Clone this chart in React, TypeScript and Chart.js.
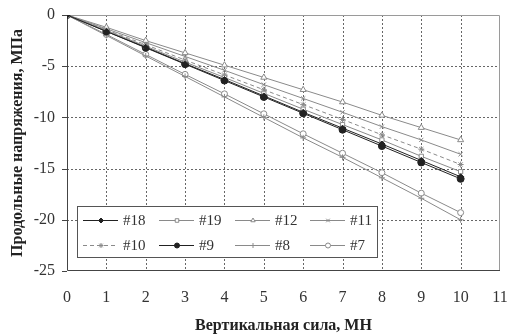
import React, { useEffect, useRef } from "react";
import { Chart, registerables } from "chart.js";
import { drawPoint } from "chart.js/helpers";

Chart.register(...registerables);

const forceValues = [0, 1, 2, 3, 4, 5, 6, 7, 8, 9, 10];
const xTicks = [0, 1, 2, 3, 4, 5, 6, 7, 8, 9, 10, 11];
const yTicks = [-25, -20, -15, -10, -5, 0];

const s18 = [0, -1.6, -3.15, -4.75, -6.3, -7.9, -9.5, -11.05, -12.6, -14.2, -15.8];
const s19 = [0, -1.5, -3.05, -4.6, -6.1, -7.65, -9.2, -10.7, -12.2, -13.8, -15.3];
const s12 = [0, -1.2, -2.5, -3.7, -4.9, -6.1, -7.3, -8.5, -9.8, -11.0, -12.2];
const s11 = [0, -1.35, -2.7, -4.05, -5.4, -6.8, -8.15, -9.5, -10.9, -12.2, -13.6];
const s10 = [0, -1.45, -2.9, -4.4, -5.85, -7.3, -8.75, -10.2, -11.7, -13.1, -14.6];
const s9 = [0, -1.6, -3.2, -4.8, -6.4, -8.0, -9.6, -11.2, -12.8, -14.4, -16.0];
const s8 = [0, -2.0, -4.0, -6.0, -8.0, -10.0, -12.0, -13.9, -15.9, -17.9, -20.0];
const s7 = [0, -1.9, -3.85, -5.8, -7.7, -9.65, -11.6, -13.5, -15.4, -17.4, -19.3];

const seriesNames = ["#18", "#19", "#12", "#11", "#10", "#9", "#8", "#7"];
const seriesValues = [s18, s19, s12, s11, s10, s9, s8, s7];

const GRAY = "#8a8a8a";
const DARK = "#222222";

const styles: any[] = [
  { color: DARK, pointStyle: "rectRot", radius: 3, fill: DARK, dash: [] },
  { color: GRAY, pointStyle: "rect", radius: 3, fill: "#ffffff", dash: [] },
  { color: GRAY, pointStyle: "triangle", radius: 3.5, fill: "#ffffff", dash: [] },
  { color: GRAY, pointStyle: "crossRot", radius: 3, fill: "#ffffff", dash: [] },
  { color: GRAY, pointStyle: "star", radius: 3, fill: "#ffffff", dash: [4, 3] },
  { color: DARK, pointStyle: "circle", radius: 3.5, fill: DARK, dash: [] },
  { color: GRAY, pointStyle: "cross", radius: 3, fill: "#ffffff", dash: [] },
  { color: GRAY, pointStyle: "circle", radius: 3, fill: "#ffffff", dash: [] },
];

const FONT = "'Liberation Serif', 'DejaVu Serif', serif";

// dotted grid, plot frame and y tick marks, placed through the chart's scales
const framePlugin = {
  id: "frame",
  beforeDatasetsDraw(chart: any) {
    const { ctx, chartArea: a, scales } = chart;
    const xs = scales.x;
    const ys = scales.y;
    ctx.save();
    ctx.lineWidth = 1;
    ctx.strokeStyle = "#666666";
    ctx.setLineDash([2, 2]);
    xs.ticks.forEach((t: any) => {
      const px = Math.round(xs.getPixelForValue(t.value)) + 0.5;
      if (px <= a.left + 1 || px >= a.right - 1) return;
      ctx.beginPath();
      ctx.moveTo(px, a.top);
      ctx.lineTo(px, a.bottom);
      ctx.stroke();
    });
    ys.ticks.forEach((t: any) => {
      const py = Math.round(ys.getPixelForValue(t.value)) + 0.5;
      if (py <= a.top + 1 || py >= a.bottom - 1) return;
      ctx.beginPath();
      ctx.moveTo(a.left, py);
      ctx.lineTo(a.right, py);
      ctx.stroke();
    });
    ctx.setLineDash([]);
    ctx.strokeStyle = "#9a9a9a";
    ctx.beginPath();
    ctx.moveTo(a.left, a.top + 0.5);
    ctx.lineTo(a.right - 0.5, a.top + 0.5);
    ctx.lineTo(a.right - 0.5, a.bottom);
    ctx.stroke();
    ctx.strokeStyle = "#444";
    ctx.beginPath();
    ctx.moveTo(a.left + 0.5, a.top);
    ctx.lineTo(a.left + 0.5, a.bottom - 0.5);
    ctx.lineTo(a.right, a.bottom - 0.5);
    ctx.stroke();
    ys.ticks.forEach((t: any) => {
      const py = Math.round(ys.getPixelForValue(t.value)) + 0.5;
      ctx.beginPath();
      ctx.moveTo(a.left - 5, py);
      ctx.lineTo(a.left, py);
      ctx.stroke();
    });
    ctx.restore();
  },
};

const legendPlugin = {
  id: "insideLegend",
  afterDraw(chart: any) {
    const { ctx } = chart;
    const bx = 77, by = 206, bw = 300, bh = 51;
    ctx.save();
    ctx.fillStyle = "#ffffff";
    ctx.fillRect(bx, by, bw, bh);
    ctx.strokeStyle = "#555";
    ctx.lineWidth = 1;
    ctx.strokeRect(bx + 0.5, by + 0.5, bw, bh);
    const colX = [83, 159, 235, 310];
    const rowY = [220, 245];
    chart.data.datasets.forEach((ds: any, i: number) => {
      const st = styles[i];
      const x0 = colX[i % 4];
      const y0 = rowY[Math.floor(i / 4)];
      ctx.strokeStyle = st.color;
      ctx.lineWidth = 1;
      ctx.setLineDash(st.dash);
      ctx.beginPath();
      ctx.moveTo(x0, y0 + 0.5);
      ctx.lineTo(x0 + 35, y0 + 0.5);
      ctx.stroke();
      ctx.setLineDash([]);
      ctx.fillStyle = st.fill;
      ctx.strokeStyle = st.color;
      drawPoint(ctx, { pointStyle: st.pointStyle, radius: 2.5, rotation: 0, borderWidth: 1 } as any, x0 + 18, y0 + 0.5);
      ctx.fillStyle = "#333";
      ctx.font = `15px ${FONT}`;
      ctx.textBaseline = "middle";
      ctx.textAlign = "left";
      ctx.fillText(ds.label, x0 + 40, y0 + 1);
    });
    ctx.restore();
  },
};

export default function App() {
  const ref = useRef<HTMLCanvasElement>(null);
  useEffect(() => {
    document.body.style.margin = "0";
    const datasets = seriesNames.map((name, i) => ({
      label: name,
      data: forceValues.map((x, j) => ({ x, y: seriesValues[i][j] })),
      borderColor: styles[i].color,
      borderWidth: 1,
      borderDash: styles[i].dash,
      pointStyle: styles[i].pointStyle,
      pointRadius: styles[i].radius,
      pointBackgroundColor: styles[i].fill,
      pointBorderColor: styles[i].color,
      pointBorderWidth: 1,
      fill: false,
    }));
    const chart = new Chart(ref.current!, {
      type: "line",
      data: { datasets },
      options: {
        animation: false,
        responsive: false,
        layout: { padding: { top: 15, right: 7, left: 0, bottom: 0 } },
        plugins: { legend: { display: false }, tooltip: { enabled: false } },
        scales: {
          x: {
            type: "linear",
            min: xTicks[0],
            max: xTicks[xTicks.length - 1],
            afterFit: (s: any) => { s.height = 65; s.paddingLeft = 0; s.paddingRight = 0; },
            ticks: { stepSize: xTicks[1] - xTicks[0], color: "#333", font: { family: FONT, size: 16 }, padding: 17 },
            grid: { display: false, drawTicks: false },
            border: { display: false },
            title: {
              display: true,
              text: "Вертикальная сила, МН",
              color: "#222",
              font: { family: FONT, size: 16, weight: "bold" },
              padding: { top: 0, bottom: 1 },
            },
          },
          y: {
            type: "linear",
            min: yTicks[0],
            max: yTicks[yTicks.length - 1],
            afterFit: (s: any) => { s.width = 67; s.paddingTop = 0; s.paddingBottom = 0; },
            ticks: { stepSize: yTicks[1] - yTicks[0], color: "#333", font: { family: FONT, size: 16 }, padding: 12 },
            grid: { display: false, drawTicks: false },
            border: { display: false },
            title: {
              display: true,
              text: "Продольные напряжения, МПа",
              color: "#222",
              font: { family: FONT, size: 16, weight: "bold" },
              padding: { top: 8, bottom: 0 },
            },
          },
        },
      } as any,
      plugins: [framePlugin, legendPlugin],
    });
    return () => chart.destroy();
  }, []);
  return <canvas ref={ref} width={507} height={336} style={{ display: "block" }} />;
}
